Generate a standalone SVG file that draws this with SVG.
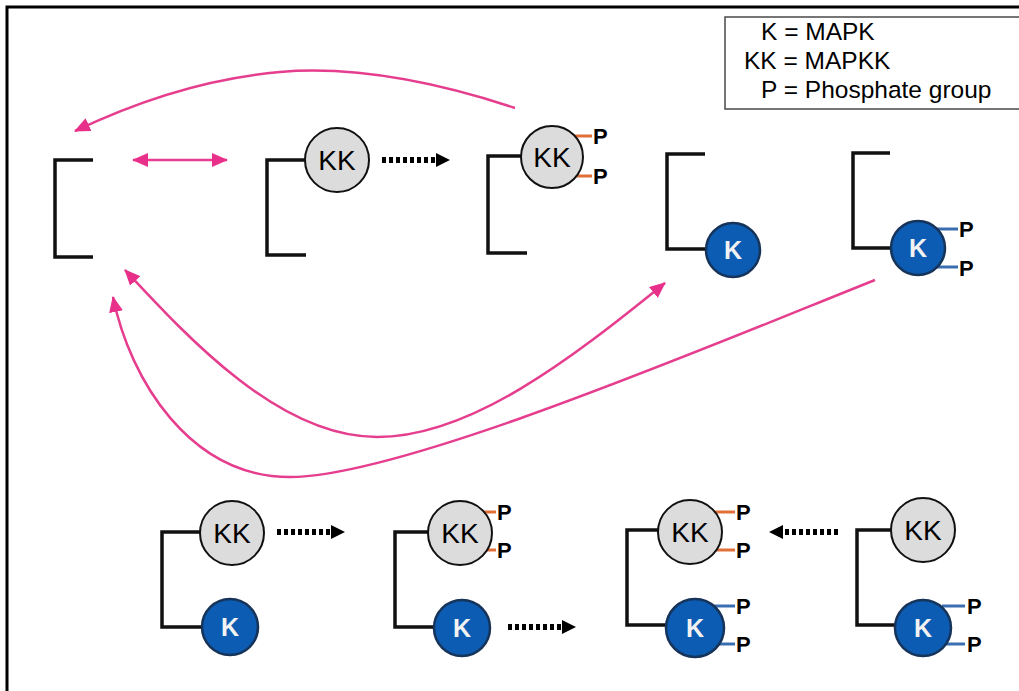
<svg xmlns="http://www.w3.org/2000/svg" width="1019" height="691" viewBox="0 0 1019 691">
  <style>
    .frame { fill: none; stroke: #000; stroke-width: 3; }
    .legend-box { fill: #fff; stroke: #4a4a4a; stroke-width: 1.5; }
    .legend { font-family: "Liberation Sans", Arial, sans-serif; font-size: 24.5px; fill: #000; }
    .bracket { fill: none; stroke: #111; stroke-width: 3.5; }
    .kk { fill: #dcdcdc; stroke: #111; stroke-width: 2; }
    .k { fill: #0b5cb2; stroke: #16335a; stroke-width: 2.5; }
    .kk-label { font-family: "Liberation Sans", Arial, sans-serif; font-size: 28px; fill: #000; text-anchor: middle; }
    .k-label { font-family: "Liberation Sans", Arial, sans-serif; font-size: 25px; font-weight: bold; fill: #f2f2f2; text-anchor: middle; }
    .p { font-family: "Liberation Sans", Arial, sans-serif; font-size: 22px; font-weight: bold; fill: #000; }
    .tick-o { stroke: #e07038; stroke-width: 3; }
    .tick-b { stroke: #3a6eb0; stroke-width: 3; }
    .pink { fill: none; stroke: #e63e8e; stroke-width: 2.5; }
    .dots { fill: none; stroke: #000; stroke-width: 6; stroke-dasharray: 4 3; }
  </style>
  <defs>
    <marker id="pinkHead" markerUnits="userSpaceOnUse" markerWidth="16" markerHeight="14" refX="15" refY="7" orient="auto-start-reverse">
      <path d="M0,0 L16,7 L0,14 Z" fill="#e8308a"/>
    </marker>
    <marker id="blackHead" markerUnits="userSpaceOnUse" markerWidth="14" markerHeight="14" refX="2" refY="7" orient="auto">
      <path d="M0,0 L14,7 L0,14 Z" fill="#000"/>
    </marker>
  </defs>

  <!-- outer frame (open on right and bottom) -->
  <path class="frame" d="M7,700 V7 H1030"/>

  <!-- legend -->
  <g id="legend">
    <rect class="legend-box" x="725" y="17" width="310" height="92"/>
    <text class="legend" x="761" y="40">K = MAPK</text>
    <text class="legend" x="744" y="69">KK = MAPKK</text>
    <text class="legend" x="761" y="98">P = Phosphate group</text>
  </g>

  <!-- top row -->
  <g id="scaffold-empty">
    <path class="bracket" d="M93,160 H55 V257 H93"/>
  </g>

  <g id="scaffold-kk">
    <path class="bracket" d="M305,160 H267 V255 H306"/>
    <circle class="kk" cx="337" cy="160" r="32"/>
    <text class="kk-label" x="337" y="170">KK</text>
  </g>

  <g id="scaffold-kkpp">
    <path class="bracket" d="M521,156 H488 V253 H527"/>
    <line class="tick-o" x1="575" y1="136" x2="592" y2="136"/>
    <line class="tick-o" x1="575" y1="176" x2="592" y2="176"/>
    <circle class="kk" cx="552" cy="157" r="31"/>
    <text class="kk-label" x="552" y="167">KK</text>
    <text class="p" x="593" y="144">P</text>
    <text class="p" x="593" y="184">P</text>
  </g>

  <g id="scaffold-k">
    <path class="bracket" d="M705,154 H667 V249 H706"/>
    <circle class="k" cx="733" cy="250" r="27"/>
    <text class="k-label" x="733" y="259">K</text>
  </g>

  <g id="scaffold-kpp">
    <path class="bracket" d="M890,153 H853 V248 H891"/>
    <line class="tick-b" x1="937" y1="229" x2="958" y2="229"/>
    <line class="tick-b" x1="937" y1="267" x2="958" y2="267"/>
    <circle class="k" cx="918" cy="248" r="27"/>
    <text class="k-label" x="918" y="257">K</text>
    <text class="p" x="959" y="237">P</text>
    <text class="p" x="959" y="276">P</text>
  </g>

  <!-- bottom row -->
  <g id="complex-1">
    <path class="bracket" d="M200,532 H162 V627 H202"/>
    <circle class="kk" cx="232" cy="533" r="32"/>
    <text class="kk-label" x="232" y="543">KK</text>
    <circle class="k" cx="230" cy="627" r="28"/>
    <text class="k-label" x="230" y="636">K</text>
  </g>

  <g id="complex-2">
    <path class="bracket" d="M428,532 H395 V627 H434"/>
    <line class="tick-o" x1="483" y1="512" x2="496" y2="512"/>
    <line class="tick-o" x1="483" y1="550" x2="496" y2="550"/>
    <circle class="kk" cx="460" cy="533" r="32"/>
    <text class="kk-label" x="460" y="543">KK</text>
    <text class="p" x="497" y="520">P</text>
    <text class="p" x="497" y="558">P</text>
    <circle class="k" cx="462" cy="628" r="28"/>
    <text class="k-label" x="462" y="637">K</text>
  </g>

  <g id="complex-3">
    <path class="bracket" d="M658,530 H627 V625 H666"/>
    <line class="tick-o" x1="714" y1="512" x2="735" y2="512"/>
    <line class="tick-o" x1="714" y1="550" x2="735" y2="550"/>
    <circle class="kk" cx="690" cy="532" r="32"/>
    <text class="kk-label" x="690" y="542">KK</text>
    <text class="p" x="736" y="520">P</text>
    <text class="p" x="736" y="558">P</text>
    <line class="tick-b" x1="714" y1="606" x2="735" y2="606"/>
    <line class="tick-b" x1="714" y1="644" x2="735" y2="644"/>
    <circle class="k" cx="695" cy="628" r="29"/>
    <text class="k-label" x="695" y="637">K</text>
    <text class="p" x="736" y="614">P</text>
    <text class="p" x="736" y="652">P</text>
  </g>

  <g id="complex-4">
    <path class="bracket" d="M891,530 H857 V625 H895"/>
    <circle class="kk" cx="923" cy="530" r="32"/>
    <text class="kk-label" x="923" y="540">KK</text>
    <line class="tick-b" x1="942" y1="606" x2="965" y2="606"/>
    <line class="tick-b" x1="942" y1="644" x2="965" y2="644"/>
    <circle class="k" cx="923" cy="628" r="28"/>
    <text class="k-label" x="923" y="637">K</text>
    <text class="p" x="967" y="614">P</text>
    <text class="p" x="967" y="652">P</text>
  </g>

  <!-- connectors -->
  <g id="connectors">
    <!-- binding / release (pink) -->
    <line class="pink" x1="133" y1="160" x2="227" y2="160" stroke-width="3" marker-start="url(#pinkHead)" marker-end="url(#pinkHead)"/>
    <path class="pink" d="M515,108 C430,80 350,66 280,72 C210,78 140,100 75,131" marker-end="url(#pinkHead)"/>
    <path class="pink" d="M125,270 C190,340 280,437 377,437 C470,437 570,360 665,283" marker-start="url(#pinkHead)" marker-end="url(#pinkHead)"/>
    <path class="pink" d="M875,280 C700,350 400,477 290,477 C190,477 130,380 113,297" marker-end="url(#pinkHead)"/>

    <!-- phosphorylation steps (dotted black) -->
    <line class="dots" x1="382" y1="160" x2="438" y2="160" marker-end="url(#blackHead)"/>
    <line class="dots" x1="277" y1="532" x2="333" y2="532" marker-end="url(#blackHead)"/>
    <line class="dots" x1="508" y1="627" x2="564" y2="627" marker-end="url(#blackHead)"/>
    <line class="dots" x1="838" y1="532" x2="781" y2="532" marker-end="url(#blackHead)"/>
  </g>
</svg>
